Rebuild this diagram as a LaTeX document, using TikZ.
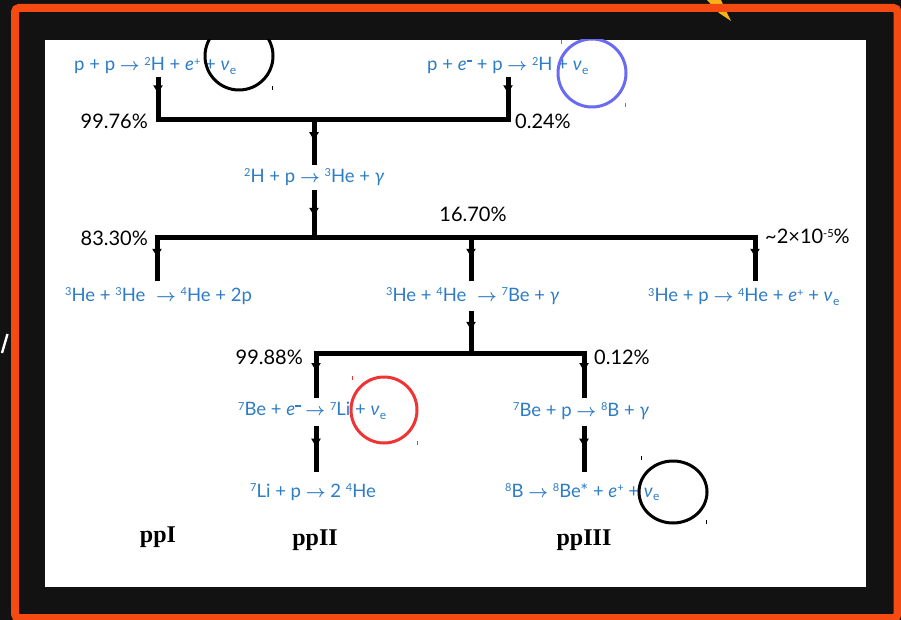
\documentclass[tikz,border=0pt]{standalone}
\usepackage{fontspec}
\setmainfont{Lato}
\setsansfont{Lato}
\newfontfamily\rxface{Lato}
\newfontfamily\labelserif{Liberation Serif}
\usetikzlibrary{arrows.meta,decorations.markings}

\definecolor{backdrop}{HTML}{121212}
\definecolor{frameorange}{HTML}{F54A12}
\definecolor{rxblue}{HTML}{2D7CC6}
\definecolor{ringblue}{HTML}{6B6BF2}
\definecolor{ringred}{HTML}{EE3434}
\definecolor{sparkyellow}{HTML}{F7B21A}

% font sizes
\newcommand{\rxfont}{\rxface\fontsize{18.5}{18.5}\selectfont}
\newcommand{\pctfont}{\fontsize{20}{20}\selectfont}
\newcommand{\chainfont}{\labelserif\bfseries\fontsize{24}{24}\selectfont}

% small raised index (mass numbers, charges)
\newcommand{\upidx}[1]{\raisebox{0.6ex}{\fontsize{11}{11}\selectfont #1}}
% electron charge, drawn as a short heavy bar
\newcommand{\eminus}{\raisebox{0.95ex}{\rule{5.5pt}{2.2pt}}}
% electron neutrino
\newcommand{\nuE}{\textit{ν}\kern0.3pt\raisebox{-0.4ex}{\fontsize{12}{12}\selectfont e}}
% reaction arrow
\newcommand{\yields}{{\boldmath$\rightarrow$}}

\begin{document}
\begin{tikzpicture}[x=1pt,y=-1pt,
  rx/.style={text=rxblue, font=\rxfont, inner sep=0pt, anchor=west},
  pct/.style={text=black, font=\pctfont, inner sep=0pt},
  chain/.style={font=\chainfont, inner sep=0pt},
  bar/.style={line width=5pt, line cap=rect},
  flow/.style={line width=5pt, postaction={decorate},
    decoration={markings, mark=at position #1 with {\arrow{Triangle[width=9pt,length=8pt]}}}},
  flow/.default=0.4,
  ring/.style={line width=3pt},
  handle/.style={line width=1pt}]

\useasboundingbox (0,0) rectangle (901,620);
\fill[backdrop] (0,0) rectangle (901,620);

% spark above the frame
\fill[sparkyellow] (707,0) -- (721,0) -- (725,9) -- (731,21) -- (719,13) -- cycle;
% stray glyph on the left margin
\draw[white, line width=2.4pt] (7.5,334) -- (2,353);

% orange frame
\draw[frameorange, line width=8pt, rounded corners=4pt] (15,8) rectangle (897.5,618);

% white panel
\fill[white] (45,40) rectangle (866,587);

% ---- reactions ----
\node[rx] (r1) at (74,66) {p + p \yields{} \upidx{2}H + \textit{e}\upidx{+} + \nuE};
\node[rx] (r2) at (427,66) {p + \textit{e}\eminus{} + p \yields{} \upidx{2}H + \nuE};
\node[rx] (r3) at (244,177) {\upidx{2}H + p \yields{} \upidx{3}He + \textit{γ}};
\node[rx] (r4) at (65,296) {\upidx{3}He + \upidx{3}He\hspace{6pt} \yields{} \upidx{4}He + 2p};
\node[rx] (r5) at (386,296) {\upidx{3}He + \upidx{4}He\hspace{6pt} \yields{} \upidx{7}Be + \textit{γ}};
\node[rx] (r6) at (648,297) {\upidx{3}He + p \yields{} \upidx{4}He + \textit{e}\upidx{+} + \nuE};
\node[rx] (r7) at (238,411) {\upidx{7}Be + \textit{e}\eminus{} \yields{} \upidx{7}Li + \nuE};
\node[rx] (r8) at (513,411) {\upidx{7}Be + p \yields{} \upidx{8}B + \textit{γ}};
\node[rx] (r9) at (250,492) {\upidx{7}Li + p \yields{} 2 \upidx{4}He};
\node[rx] (r10) at (505,492) {\upidx{8}B \yields{} \upidx{8}Be* + \textit{e}\upidx{+} + \nuE};

% ---- branching ratios ----
\node[pct, anchor=east] (p1) at (148,121) {99.76\%};
\node[pct, anchor=west] (p2) at (515,121) {0.24\%};
\node[pct] (p3) at (473,214) {16.70\%};
\node[pct, anchor=east] (p4) at (148,238) {83.30\%};
\node[pct, anchor=west] (p5) at (765,236) {\textasciitilde2×10\upidx{-5}\%};
\node[pct, anchor=east] (p6) at (303,357) {99.88\%};
\node[pct, anchor=west] (p7) at (594,357) {0.12\%};

% ---- chain names ----
\node[chain] (c1) at (158,537) {ppI};
\node[chain] (c2) at (315,540) {ppII};
\node[chain] (c3) at (584,540) {ppIII};

% ---- junctions and line ends ----
\coordinate (t1) at (158,77);   \coordinate (jA) at (158,120);
\coordinate (t2) at (508,77);   \coordinate (jB) at (508,120);
\coordinate (jC) at (314,120);  \coordinate (t3) at (314,165);
\coordinate (t4) at (314,190);  \coordinate (jD) at (314,237);
\coordinate (jE) at (157,237);  \coordinate (t5) at (157,281);
\coordinate (jF) at (471,237);  \coordinate (t6) at (471,281);
\coordinate (jG) at (755,237);  \coordinate (t7) at (755,281);
\coordinate (t8) at (471,311);  \coordinate (jH) at (471,353);
\coordinate (jI) at (316,353);  \coordinate (t9) at (316,398);
\coordinate (jJ) at (584,353);  \coordinate (t10) at (584,398);
\coordinate (t11) at (316,426); \coordinate (t12) at (316,472);
\coordinate (t13) at (584,426); \coordinate (t14) at (584,472);

% ---- connectors ----
\draw[bar] (jA) -- (jB);
\draw[flow=0.38] (t1) -- (jA);
\draw[flow=0.38] (t2) -- (jB);
\draw[flow=0.45] (jC) -- (t3);
\draw[flow=0.55] (t4) -- (jD);
\draw[bar] (jE) -- (jG);
\draw[flow=0.45] (jE) -- (t5);
\draw[flow=0.45] (jF) -- (t6);
\draw[flow=0.45] (jG) -- (t7);
\draw[flow=0.45] (t8) -- (jH);
\draw[bar] (jI) -- (jJ);
\draw[flow=0.4] (jI) -- (t9);
\draw[flow=0.4] (jJ) -- (t10);
\draw[flow=0.45] (t11) -- (t12);
\draw[flow=0.45] (t13) -- (t14);

% ---- highlight rings, kept inside the panel ----
\begin{scope}
  \clip (45,40) rectangle (866,587);
  \draw[ring, black] (239,56) circle[radius=34];
  \draw[ring, ringblue] (592,73) circle[radius=34];
  \draw[ring, ringred] (384,410) circle[radius=33];
  \draw[ring, black] (673,492) ellipse[x radius=34, y radius=31];
  % selection handles
  \draw[handle, black] (272.5,86) -- (272.5,90);
  \draw[handle, ringblue] (561,40) -- (561,44);
  \draw[handle, ringblue] (625.5,103) -- (625.5,107);
  \draw[handle, ringred] (352,376) -- (352,380);
  \draw[handle, ringred] (417,441) -- (417,445);
  \draw[handle, black] (641,456) -- (641,460);
  \draw[handle, black] (706,520) -- (706,524);
\end{scope}
\end{tikzpicture}
\end{document}
